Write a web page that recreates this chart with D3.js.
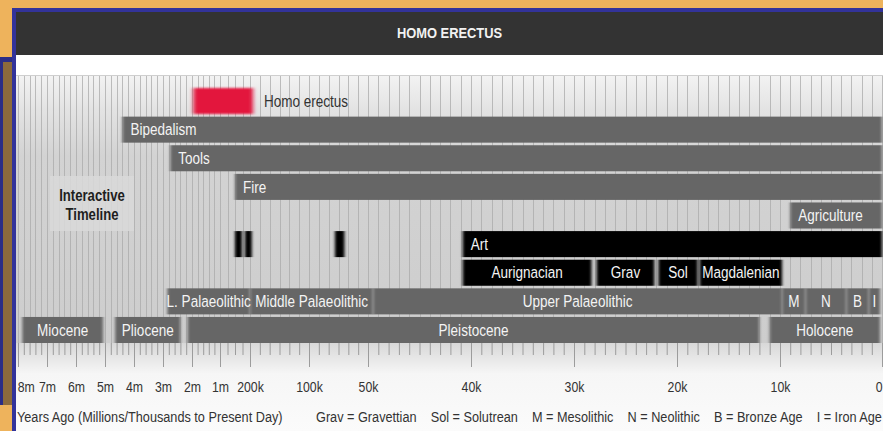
<!DOCTYPE html>
<html>
<head>
<meta charset="utf-8">
<script src="https://cdn.jsdelivr.net/npm/d3@7"></script>
<style>
  body { margin: 0; overflow: hidden; background: #eeb35c; }
  text { font-family: "Liberation Sans", Arial, sans-serif; }
</style>
</head>
<body>
<svg id="chart" width="883" height="431"></svg>
<script>
const width = 883;
const height = 431;
const narrow = 0.82; // horizontal squeeze, the original uses a narrow face

// axis breakpoints in years ago, and the labels shown under them
const tickValues = [8e6, 7e6, 6e6, 5e6, 4e6, 3e6, 2e6, 1e6, 200e3, 100e3, 50e3, 40e3, 30e3, 20e3, 10e3, 0];
const tickLabels = ["8m", "7m", "6m", "5m", "4m", "3m", "2m", "1m", "200k", "100k", "50k", "40k", "30k", "20k", "10k", "0"];
// stripe intervals between two breakpoints
const minorSteps = [5, 5, 5, 5, 5, 5, 5, 4, 6, 6, 10, 10, 10, 10, 10];

// [label, start, end] in years ago
const species = [["Homo erectus", 1950000, 195000]];
const milestones = [["Bipedalism", 4400000, 0], ["Tools", 2750000, 0], ["Fire", 600000, 0], ["Agriculture", 9000, 0]];
const art = [["Art", 40800, 0]];
const artMarks = [[600000, 413000], [333000, 197000], [78000, 70000]];
const cultures = [["Aurignacian", 40800, 28300], ["Grav", 27800, 22200], ["Sol", 21800, 18000], ["Magdalenian", 17800, 9800]];
const palaeolithic = [["L. Palaeolithic", 2850000, 200000], ["Middle Palaeolithic", 200000, 49500],
    ["Upper Palaeolithic", 49500, 9800], ["M", 9800, 7500], ["N", 7500, 3500], ["B", 3500, 1300], ["I", 1300, 200]];
const epochs = [["Miocene", 7850000, 5070000], ["Pliocene", 4650000, 2400000], ["Pleistocene", 2150000, 12000], ["Holocene", 11000, 200]];
const legend = ["Grav = Gravettian", "Sol = Solutrean", "M = Mesolithic", "N = Neolithic", "B = Bronze Age", "I = Iron Age"];

const svg = d3.select("#chart");
const defs = svg.append("defs");

const place = (px, py) => `translate(${px},${py}) scale(${narrow},1)`;

// pixel width of each axis segment (the timeline is not linear)
const segW = [29, 29, 29, 29, 29, 29, 28, 30, 59, 59, 103, 103, 103, 103, 102];
const xRange = [18];
segW.forEach(w => xRange.push(xRange[xRange.length - 1] + w));

const x = d3.scaleLinear().domain(tickValues).range(xRange);

const y = d3.scaleBand()
    .domain(d3.range(9))
    .range([88, 343])
    .paddingInner(0.09)
    .paddingOuter(0);

const minorValues = [];
tickValues.slice(1).forEach((v, i) => {
    const a = tickValues[i];
    for (let k = 1; k < minorSteps[i]; k++) minorValues.push(a + (v - a) * k / minorSteps[i]);
});

// gradients + soft edge filters
const bg = defs.append("linearGradient").attr("id", "bg").attr("x1", 0).attr("y1", 0).attr("x2", 0).attr("y2", 1);
bg.append("stop").attr("offset", 0).attr("stop-color", "#f3f3f3");
bg.append("stop").attr("offset", 0.13).attr("stop-color", "#e3e3e3");
bg.append("stop").attr("offset", 0.3).attr("stop-color", "#d3d3d3");
bg.append("stop").attr("offset", 1).attr("stop-color", "#cdcdcd");

const axBg = defs.append("linearGradient").attr("id", "axbg").attr("x1", 0).attr("y1", 0).attr("x2", 0).attr("y2", 1);
axBg.append("stop").attr("offset", 0).attr("stop-color", "#d8d8d8");
axBg.append("stop").attr("offset", 0.35).attr("stop-color", "#f6f6f6");
axBg.append("stop").attr("offset", 1).attr("stop-color", "#fbfbfb");

defs.append("filter").attr("id", "soft")
    .attr("filterUnits", "userSpaceOnUse")
    .attr("x", 0).attr("y", 0).attr("width", width).attr("height", height)
    .append("feGaussianBlur").attr("stdDeviation", "1.8 0.3");

defs.append("filter").attr("id", "glow")
    .attr("filterUnits", "userSpaceOnUse")
    .attr("x", 0).attr("y", 0).attr("width", width).attr("height", height)
    .append("feGaussianBlur").attr("stdDeviation", "2.2 1");

// frame
svg.append("rect").attr("x", 0).attr("y", 57).attr("width", 13).attr("height", 348).attr("fill", "#2b2d86");
svg.append("rect").attr("x", 3).attr("y", 62).attr("width", 9).attr("height", 343).attr("fill", "#8c6a3c");
svg.append("rect").attr("x", 12).attr("y", 8).attr("width", width - 12).attr("height", 4).attr("fill", "#33339a");
svg.append("rect").attr("x", 12).attr("y", 8).attr("width", 4).attr("height", height).attr("fill", "#33339a");

// title bar
svg.append("rect").attr("x", 16).attr("y", 12).attr("width", width - 16).attr("height", 43).attr("fill", "#333333");
svg.append("text")
    .attr("transform", `translate(${(16 + width) / 2},38) scale(0.86,1)`)
    .attr("text-anchor", "middle")
    .attr("fill", "#f2f2f2")
    .attr("font-size", 15).attr("font-weight", "bold")
    .text("HOMO ERECTUS");
svg.append("rect").attr("x", 16).attr("y", 55).attr("width", width - 16).attr("height", 20).attr("fill", "#ffffff");

// chart background with stripes
svg.append("rect").attr("x", 16).attr("y", 75).attr("width", width - 16).attr("height", 268).attr("fill", "url(#bg)");
svg.append("rect").attr("x", 16).attr("y", 343).attr("width", width - 16).attr("height", height - 343).attr("fill", "url(#axbg)");
svg.append("line").attr("x1", 16).attr("x2", width).attr("y1", 75.5).attr("y2", 75.5).attr("stroke", "#cfcfcf");

svg.append("g")
    .selectAll("line")
    .data(tickValues.concat(minorValues))
    .join("line")
    .attr("x1", d => Math.round(x(d)) + 0.5)
    .attr("x2", d => Math.round(x(d)) + 0.5)
    .attr("y1", 76).attr("y2", 343)
    .attr("stroke", "#a9a9a9")
    .attr("stroke-opacity", 0.75);

// "Interactive Timeline" box
svg.append("rect").attr("x", 50).attr("y", 176).attr("width", 84).attr("height", 55)
    .attr("fill", "#d9d9d9").attr("opacity", 0.85);
svg.append("text").attr("transform", place(92, 201)).attr("text-anchor", "middle")
    .attr("font-size", 16).attr("font-weight", "bold").attr("fill", "#1e1e1e").text("Interactive");
svg.append("text").attr("transform", place(92, 220)).attr("text-anchor", "middle")
    .attr("font-size", 16).attr("font-weight", "bold").attr("fill", "#1e1e1e").text("Timeline");

const labelY = row => y(row) + y.bandwidth() / 2 + 5.7;

function drawBars(data, row, fill, align) {
    const g = svg.append("g");
    g.selectAll("rect")
        .data(data)
        .join("rect")
        .attr("x", d => x(d[1]))
        .attr("width", d => x(d[2]) - x(d[1]))
        .attr("y", y(row))
        .attr("height", y.bandwidth())
        .attr("fill", fill)
        .attr("filter", "url(#soft)");
    g.selectAll("text")
        .data(data)
        .join("text")
        .attr("transform", d => place(align === "middle" ? (x(d[1]) + x(d[2])) / 2 : x(d[1]) + 8, labelY(row)))
        .attr("text-anchor", align === "middle" ? "middle" : "start")
        .attr("fill", "#f4f4f4")
        .attr("font-size", 16.5)
        .text(d => d[0]);
}

// row 0: species
svg.append("rect")
    .attr("x", x(species[0][1])).attr("width", x(species[0][2]) - x(species[0][1]))
    .attr("y", y(0)).attr("height", y.bandwidth())
    .attr("fill", "#e3163c").attr("filter", "url(#glow)");
svg.append("text")
    .attr("transform", place(x(species[0][2]) + 11, labelY(0)))
    .attr("fill", "#333").attr("font-size", 16.5)
    .text(species[0][0]);

milestones.forEach((m, i) => drawBars([m], i + 1, "#666666", "start"));

// row 5: art
svg.append("g").selectAll("rect")
    .data(artMarks)
    .join("rect")
    .attr("x", d => x(d[0]))
    .attr("width", d => x(d[1]) - x(d[0]))
    .attr("y", y(5)).attr("height", y.bandwidth())
    .attr("fill", "#000")
    .attr("filter", "url(#soft)");
drawBars(art, 5, "#000000", "start");

drawBars(cultures, 6, "#050505", "middle");
drawBars(palaeolithic, 7, "#666666", "middle");
drawBars(epochs, 8, "#666666", "middle");

// axis
const minorAxis = d3.axisBottom(x).tickValues(minorValues).tickSize(12).tickFormat("");
const majorAxis = d3.axisBottom(x).tickValues(tickValues)
    .tickSize(24).tickPadding(14)
    .tickFormat((d, i) => tickLabels[i]);

const gMinor = svg.append("g").attr("transform", "translate(0,343)").call(minorAxis);
const gMajor = svg.append("g").attr("transform", "translate(0,343)").call(majorAxis);
[gMinor, gMajor].forEach(g => {
    g.select(".domain").remove();
    g.selectAll(".tick line").attr("stroke", "#9c9c9c");
});
gMajor.selectAll(".tick text")
    .attr("font-size", 15)
    .attr("fill", "#333")
    .attr("font-family", null)
    .attr("text-anchor", (d, i) => i === 0 ? "start" : i === tickValues.length - 1 ? "end" : "middle")
    .attr("x", (d, i) => i === 0 ? -1 : 0)
    .attr("transform", `scale(${narrow},1)`);

// footer
svg.append("text").attr("transform", place(17, 422))
    .attr("font-size", 15.5).attr("fill", "#333")
    .text("Years Ago (Millions/Thousands to Present Day)");

const legendG = svg.append("g");
const items = legendG.selectAll("text")
    .data(legend)
    .join("text")
    .attr("font-size", 15.5)
    .attr("fill", "#333")
    .text(d => d);
let right = width - 1;
items.nodes().reverse().forEach(node => {
    const w = node.getComputedTextLength() * narrow;
    d3.select(node).attr("transform", place(right - w, 422));
    right -= w + 14;
});
</script>
</body>
</html>
